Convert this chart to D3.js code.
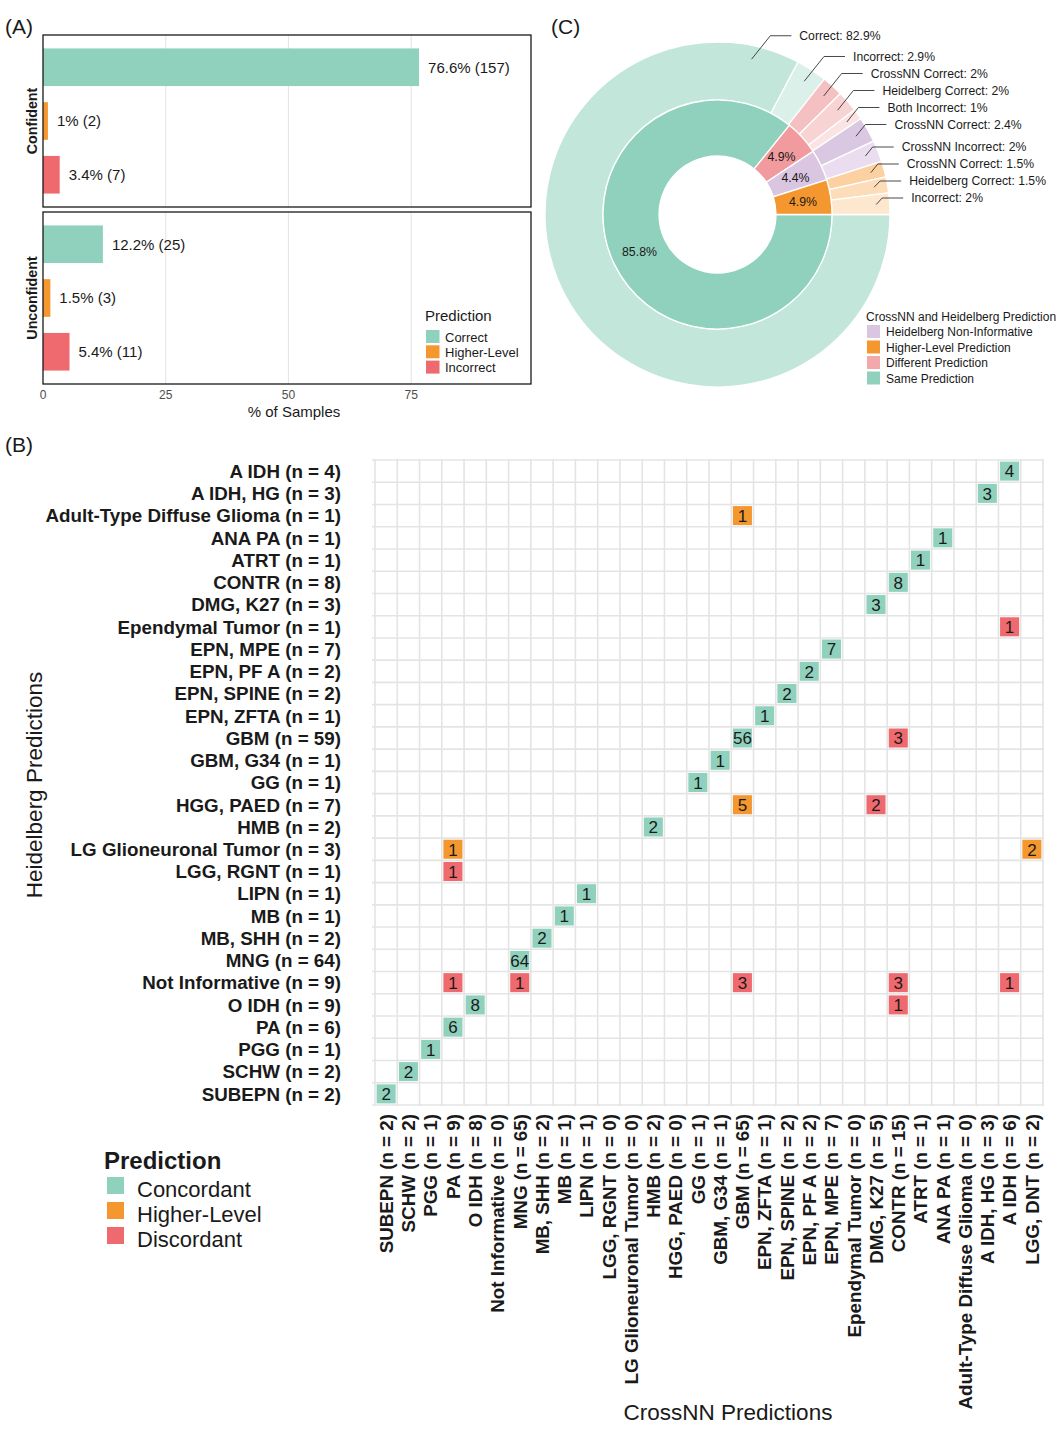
<!DOCTYPE html>
<html><head><meta charset="utf-8">
<script src="https://cdn.jsdelivr.net/npm/d3@7"></script>
<style>body{margin:0;background:#fff} svg text{font-family:"Liberation Sans",Arial,Helvetica,sans-serif}</style>
</head><body><svg id="c" width="1064" height="1429"></svg>
<script>
// ---------------- Panel A data ----------------
const confGroups = ["Confident", "Unconfident"];
const predCats = ["Correct", "Higher-Level", "Incorrect"];
const confPct = [76.6, 1, 3.4];
const confN = [157, 2, 7];
const unconfPct = [12.2, 1.5, 5.4];
const unconfN = [25, 3, 11];
const pctTicks = [0, 25, 50, 75];

// ---------------- Panel C data ----------------
const innerCats = ["Same Prediction", "Different Prediction", "Heidelberg Non-Informative", "Higher-Level Prediction"];
const innerPct = [85.8, 4.9, 4.4, 4.9];
const outerLabels = ["Correct", "Incorrect", "CrossNN Correct", "Heidelberg Correct", "Both Incorrect",
  "CrossNN Correct", "CrossNN Incorrect", "CrossNN Correct", "Heidelberg Correct", "Incorrect"];
const outerPct = [82.9, 2.9, 2, 2, 1, 2.4, 2, 1.5, 1.5, 2];
const legendCOrder = ["Heidelberg Non-Informative", "Higher-Level Prediction", "Different Prediction", "Same Prediction"];

// ---------------- Panel B data ----------------
const crossNames = ["SUBEPN", "SCHW", "PGG", "PA", "O IDH", "Not Informative", "MNG", "MB, SHH", "MB", "LIPN",
  "LGG, RGNT", "LG Glioneuronal Tumor", "HMB", "HGG, PAED", "GG", "GBM, G34", "GBM", "EPN, ZFTA", "EPN, SPINE",
  "EPN, PF A", "EPN, MPE", "Ependymal Tumor", "DMG, K27", "CONTR", "ATRT", "ANA PA", "Adult-Type Diffuse Glioma",
  "A IDH, HG", "A IDH", "LGG, DNT"];
const crossN = [2, 2, 1, 9, 8, 0, 65, 2, 1, 1, 0, 0, 2, 0, 1, 1, 65, 1, 2, 2, 7, 0, 5, 15, 1, 1, 0, 3, 6, 2];
const heidNames = ["A IDH", "A IDH, HG", "Adult-Type Diffuse Glioma", "ANA PA", "ATRT", "CONTR", "DMG, K27",
  "Ependymal Tumor", "EPN, MPE", "EPN, PF A", "EPN, SPINE", "EPN, ZFTA", "GBM", "GBM, G34", "GG", "HGG, PAED",
  "HMB", "LG Glioneuronal Tumor", "LGG, RGNT", "LIPN", "MB", "MB, SHH", "MNG", "Not Informative", "O IDH", "PA",
  "PGG", "SCHW", "SUBEPN"];
const heidN = [4, 3, 1, 1, 1, 8, 3, 1, 7, 2, 2, 1, 59, 1, 1, 7, 2, 3, 1, 1, 1, 2, 64, 9, 9, 6, 1, 2, 2];
const predTypes = ["Concordant", "Higher-Level", "Discordant"];
const cellHeid = ["A IDH", "A IDH, HG", "Adult-Type Diffuse Glioma", "ANA PA", "ATRT", "CONTR", "DMG, K27",
  "Ependymal Tumor", "EPN, MPE", "EPN, PF A", "EPN, SPINE", "EPN, ZFTA", "GBM", "GBM", "GBM, G34", "GG",
  "HGG, PAED", "HGG, PAED", "HMB", "LG Glioneuronal Tumor", "LG Glioneuronal Tumor", "LGG, RGNT", "LIPN", "MB",
  "MB, SHH", "MNG", "Not Informative", "Not Informative", "Not Informative", "Not Informative", "Not Informative",
  "O IDH", "O IDH", "PA", "PGG", "SCHW", "SUBEPN"];
const cellCross = ["A IDH", "A IDH, HG", "GBM", "ANA PA", "ATRT", "CONTR", "DMG, K27",
  "A IDH", "EPN, MPE", "EPN, PF A", "EPN, SPINE", "EPN, ZFTA", "GBM", "CONTR", "GBM, G34", "GG",
  "GBM", "DMG, K27", "HMB", "PA", "LGG, DNT", "PA", "LIPN", "MB",
  "MB, SHH", "MNG", "PA", "MNG", "GBM", "CONTR", "A IDH",
  "O IDH", "CONTR", "PA", "PGG", "SCHW", "SUBEPN"];
const cellCount = [4, 3, 1, 1, 1, 8, 3, 1, 7, 2, 2, 1, 56, 3, 1, 1, 5, 2, 2, 1, 2, 1, 1, 1, 2, 64, 1, 1, 3, 3, 1, 8, 1, 6, 1, 2, 2];
const cellType = ["Concordant", "Concordant", "Higher-Level", "Concordant", "Concordant", "Concordant", "Concordant",
  "Discordant", "Concordant", "Concordant", "Concordant", "Concordant", "Concordant", "Discordant", "Concordant", "Concordant",
  "Higher-Level", "Discordant", "Concordant", "Higher-Level", "Higher-Level", "Discordant", "Concordant", "Concordant",
  "Concordant", "Concordant", "Discordant", "Discordant", "Discordant", "Discordant", "Discordant",
  "Concordant", "Discordant", "Concordant", "Concordant", "Concordant", "Concordant"];

// ---------------- styles ----------------
const TEAL = "#8fd1bd", ORANGE = "#f5972f", RED = "#ef6a6f";
const colA = d3.scaleOrdinal().domain(predCats).range([TEAL, ORANGE, RED]);
const colB = d3.scaleOrdinal().domain(predTypes).range([TEAL, ORANGE, RED]);
const colInner = d3.scaleOrdinal().domain(innerCats).range([TEAL, "#f19b9f", "#dbc6e2", ORANGE]);
const colLegendC = d3.scaleOrdinal().domain(innerCats).range([TEAL, "#f3a8ab", "#dbc6e2", ORANGE]);
const outerColors = ["#c2e6da", "#dcf0ea", "#f5c0c2", "#f8d3d4", "#fbe3e3", "#dac8e2", "#e9ddef", "#fcd0a1", "#fddcb9", "#fee7cf"];
const TXT = "#1a1a1a";

const svg = d3.select("#c");

// ================= Panel A =================
svg.append("text").attr("x", 5).attr("y", 34).attr("font-size", 21).attr("fill", TXT).text("(A)");
const xA = d3.scaleLinear().domain([0, 99.4]).range([43, 531]);
const panelsA = [
  {name: confGroups[0], pct: confPct, n: confN, y0: 35, y1: 207},
  {name: confGroups[1], pct: unconfPct, n: unconfN, y0: 212, y1: 384}
];
panelsA.forEach(p => {
  const g = svg.append("g");
  const yA = d3.scaleBand().domain(predCats).range([p.y0, p.y1]).paddingInner(0.3).paddingOuter(0.25);
  g.selectAll("line.grid").data(pctTicks.slice(1)).join("line")
    .attr("x1", d => xA(d)).attr("x2", d => xA(d)).attr("y1", p.y0).attr("y2", p.y1)
    .attr("stroke", "#e6e6e6").attr("stroke-width", 1.1);
  g.selectAll("rect.bar").data(predCats).join("rect")
    .attr("x", xA(0)).attr("y", d => yA(d))
    .attr("width", (d, i) => xA(p.pct[i]) - xA(0)).attr("height", yA.bandwidth())
    .attr("fill", d => colA(d));
  g.selectAll("text.lab").data(predCats).join("text")
    .attr("x", (d, i) => xA(p.pct[i]) + 9).attr("y", d => yA(d) + yA.bandwidth() / 2)
    .attr("dy", "0.36em").attr("font-size", 15).attr("fill", TXT)
    .text((d, i) => `${p.pct[i]}% (${p.n[i]})`);
  g.append("rect").attr("x", 43).attr("y", p.y0).attr("width", 531 - 43).attr("height", p.y1 - p.y0)
    .attr("fill", "none").attr("stroke", "#1a1a1a").attr("stroke-width", 1.3);
  g.append("text").attr("transform", `translate(32,${(p.y0 + p.y1) / 2}) rotate(-90)`)
    .attr("text-anchor", "middle").attr("dy", "0.36em").attr("font-size", 14.3).attr("font-weight", "bold")
    .attr("fill", TXT).text(p.name);
});
svg.append("g").selectAll("text").data(pctTicks).join("text")
  .attr("x", d => xA(d)).attr("y", 395).attr("dy", "0.36em").attr("text-anchor", "middle")
  .attr("font-size", 12).attr("fill", "#4d4d4d").text(d => d);
svg.append("text").attr("x", 294).attr("y", 412).attr("dy", "0.36em").attr("text-anchor", "middle")
  .attr("font-size", 15).attr("fill", TXT).text("% of Samples");
// legend A
const legA = svg.append("g");
legA.append("text").attr("x", 425).attr("y", 316).attr("dy", "0.36em").attr("font-size", 15).attr("fill", TXT).text("Prediction");
predCats.forEach((c, i) => {
  legA.append("rect").attr("x", 426).attr("y", 330 + i * 15.3).attr("width", 13.5).attr("height", 13).attr("fill", colA(c));
  legA.append("text").attr("x", 445).attr("y", 337 + i * 15.3).attr("dy", "0.36em").attr("font-size", 13).attr("fill", TXT).text(c);
});

// ================= Panel C =================
svg.append("text").attr("x", 551).attr("y", 34).attr("font-size", 21).attr("fill", TXT).text("(C)");
const cx = 717.5, cy = 214.5, rHole = 58.5, rIn = 114.5, rOut = 172.5;
const gC = svg.append("g").attr("transform", `translate(${cx},${cy})`);
const pie = d3.pie().sort(null).value(d => d).startAngle(Math.PI / 2).endAngle(Math.PI / 2 + 2 * Math.PI);
const innerArcs = pie(innerPct);
const outerArcs = pie(outerPct);
const arcIn = d3.arc().innerRadius(rHole).outerRadius(rIn);
const arcOut = d3.arc().innerRadius(rIn).outerRadius(rOut);
gC.selectAll("path.out").data(outerArcs).join("path").attr("d", arcOut)
  .attr("fill", (d, i) => outerColors[i]).attr("stroke", "#fff").attr("stroke-width", 1.3);
gC.selectAll("path.in").data(innerArcs).join("path").attr("d", arcIn)
  .attr("fill", (d, i) => colInner(innerCats[i])).attr("stroke", "#fff").attr("stroke-width", 1.3);
gC.selectAll("text.in").data(innerArcs).join("text")
  .attr("x", d => { const a = (d.startAngle + d.endAngle) / 2; return 86.5 * Math.sin(a); })
  .attr("y", d => { const a = (d.startAngle + d.endAngle) / 2; return -86.5 * Math.cos(a); })
  .attr("dy", "0.36em").attr("text-anchor", "middle").attr("font-size", 12.3).attr("fill", TXT)
  .text(d => d.data + "%");
// outer labels with leader lines
const rAnchor = 159, rLab = 183;
const labs = outerArcs.map((d, i) => {
  const a = d.endAngle - Math.min((d.endAngle - d.startAngle) / 2, 0.27);
  return {i, ax: rAnchor * Math.sin(a), ay: -rAnchor * Math.cos(a), y: -rLab * Math.cos(a)};
});
labs[labs.length - 1].y = Math.min(labs[labs.length - 1].y, -16.5);
for (let k = labs.length - 2; k >= 0; k--) labs[k].y = Math.min(labs[k].y, labs[k + 1].y - 17);
labs.forEach(l => { l.ex = l.ax + Math.max(6, 0.8 * (l.ay - l.y)); l.hx = l.ex + 21; });
gC.selectAll("polyline.lead").data(labs).join("polyline")
  .attr("points", l => `${l.ax},${l.ay} ${l.ex},${l.y} ${l.hx},${l.y}`)
  .attr("fill", "none").attr("stroke", "#333").attr("stroke-width", 0.9);
gC.selectAll("text.olab").data(labs).join("text")
  .attr("x", l => l.hx + 8).attr("y", l => l.y).attr("dy", "0.36em")
  .attr("font-size", 12.2).attr("fill", TXT)
  .text(l => `${outerLabels[l.i]}: ${outerPct[l.i]}%`);
// legend C
const legC = svg.append("g");
legC.append("text").attr("x", 866).attr("y", 317).attr("dy", "0.36em").attr("font-size", 12).attr("fill", TXT)
  .text("CrossNN and Heidelberg Prediction");
legendCOrder.forEach((c, i) => {
  legC.append("rect").attr("x", 867).attr("y", 325 + i * 15.5).attr("width", 13).attr("height", 13).attr("fill", colLegendC(c));
  legC.append("text").attr("x", 886).attr("y", 332 + i * 15.5).attr("dy", "0.36em").attr("font-size", 12).attr("fill", TXT).text(c);
});

// ================= Panel B =================
svg.append("text").attr("x", 5).attr("y", 452).attr("font-size", 21).attr("fill", TXT).text("(B)");
const crossLabels = crossNames.map((d, i) => `${d} (n = ${crossN[i]})`);
const heidLabels = heidNames.map((d, i) => `${d} (n = ${heidN[i]})`);
const xH = d3.scaleBand().domain(crossNames).range([375, 1043]);
const yH = d3.scaleBand().domain(heidNames).range([460, 1105]);
const gB = svg.append("g");
const xb = d3.range(crossNames.length + 1).map(i => xH.range()[0] + i * xH.step());
const yb = d3.range(heidNames.length + 1).map(i => yH.range()[0] + i * yH.step());
gB.selectAll("line.v").data(xb).join("line")
  .attr("x1", d => d).attr("x2", d => d).attr("y1", yb[0] - 1).attr("y2", yb[yb.length - 1] + 1)
  .attr("stroke", "#e4e4e4").attr("stroke-width", 1.6);
gB.selectAll("line.h").data(yb).join("line")
  .attr("x1", xb[0] - 3).attr("x2", xb[xb.length - 1] + 1).attr("y1", d => d).attr("y2", d => d)
  .attr("stroke", "#e4e4e4").attr("stroke-width", 1.6);
const cells = cellHeid.map((h, i) => ({h, c: cellCross[i], v: cellCount[i], t: cellType[i]}));
const ins = 1.6;
gB.selectAll("rect.cell").data(cells).join("rect")
  .attr("x", d => xH(d.c) + ins).attr("y", d => yH(d.h) + ins)
  .attr("width", xH.bandwidth() - 2 * ins).attr("height", yH.bandwidth() - 2 * ins)
  .attr("fill", d => colB(d.t));
gB.selectAll("text.cv").data(cells).join("text")
  .attr("x", d => xH(d.c) + xH.bandwidth() / 2).attr("y", d => yH(d.h) + yH.bandwidth() / 2)
  .attr("dy", "0.37em").attr("text-anchor", "middle").attr("font-size", 17).attr("fill", TXT)
  .text(d => d.v);
// y labels
gB.selectAll("text.yl").data(heidNames).join("text")
  .attr("x", 341).attr("y", d => yH(d) + yH.bandwidth() / 2).attr("dy", "0.36em")
  .attr("text-anchor", "end").attr("font-size", 18.8).attr("font-weight", "bold").attr("fill", TXT)
  .text((d, i) => heidLabels[i]);
// x labels
gB.selectAll("text.xl").data(crossNames).join("text")
  .attr("transform", d => `translate(${xH(d) + xH.bandwidth() / 2},1114) rotate(-90)`)
  .attr("dy", "0.36em").attr("text-anchor", "end").attr("font-size", 18.8).attr("font-weight", "bold").attr("fill", TXT)
  .text((d, i) => crossLabels[i]);
svg.append("text").attr("transform", "translate(34,785) rotate(-90)").attr("text-anchor", "middle")
  .attr("dy", "0.36em").attr("font-size", 22.5).attr("fill", TXT).text("Heidelberg Predictions");
svg.append("text").attr("x", 728).attr("y", 1412).attr("dy", "0.36em").attr("text-anchor", "middle")
  .attr("font-size", 22.5).attr("fill", TXT).text("CrossNN Predictions");
// legend B
const legB = svg.append("g");
legB.append("text").attr("x", 104).attr("y", 1160).attr("dy", "0.36em").attr("font-size", 24).attr("font-weight", "bold")
  .attr("fill", TXT).text("Prediction");
predTypes.forEach((t, i) => {
  legB.append("rect").attr("x", 107).attr("y", 1177 + i * 25).attr("width", 17).attr("height", 17).attr("fill", colB(t));
  legB.append("text").attr("x", 137).attr("y", 1189 + i * 25).attr("dy", "0.36em").attr("font-size", 22)
    .attr("fill", TXT).text(t);
});
</script></body></html>
